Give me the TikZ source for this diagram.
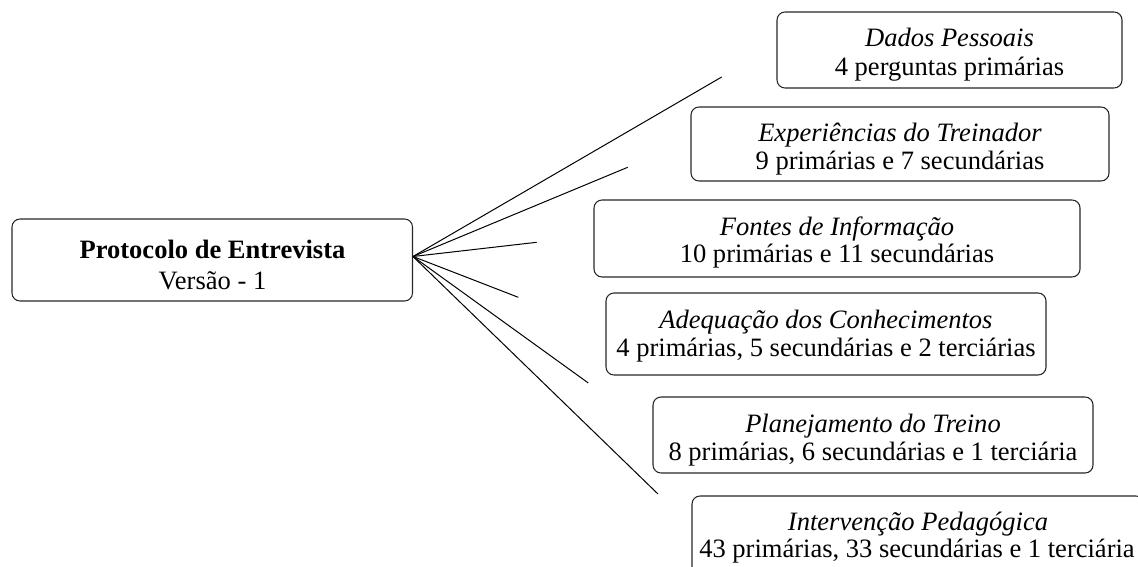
\documentclass[tikz,border=0pt]{standalone}
\usepackage{fontspec}
\setmainfont{Liberation Serif}
\begin{document}
\begin{tikzpicture}[x=0.75pt,y=-0.75pt,
  box/.style={draw=black!85,line width=0.8pt,rounded corners=6pt},
  txt/.style={anchor=base,inner sep=0pt,font=\fontsize{19.9}{23}\selectfont},
  ttl/.style={txt,font=\fontsize{19.9}{23}\selectfont\itshape},
  spoke/.style={draw=black,line width=0.75pt}]
\useasboundingbox (0,0) rectangle (1138,567);
\clip (0,0) rectangle (1138,567);
% main box
\draw[box] (12,219) rectangle (412.5,301);
\node[txt,font=\fontsize{19.9}{23}\selectfont\bfseries] (mainT) at (212.5,258) {Protocolo de Entrevista};
\node[txt] (mainS) at (212.5,289) {Versão - 1};
\coordinate (hub) at (413,256.5);
% boxes
\draw[box] (777,12) rectangle (1122,88);
\node[ttl] (dadosT) at (949.5,47) {Dados Pessoais};
\node[txt] (dadosS) at (949.5,75) {4 perguntas primárias};
\draw[box] (691,107) rectangle (1109,181);
\node[ttl] (expT) at (900,141) {Experiências do Treinador};
\node[txt] (expS) at (900,169) {9 primárias e 7 secundárias};
\draw[box] (594,200) rectangle (1080,277);
\node[ttl] (fontT) at (837,235) {Fontes de Informação};
\node[txt] (fontS) at (837,262) {10 primárias e 11 secundárias};
\draw[box] (606,293) rectangle (1046,375);
\node[ttl] (adeqT) at (826,328) {Adequação dos Conhecimentos};
\node[txt] (adeqS) at (826,356) {4 primárias, 5 secundárias e 2 terciárias};
\draw[box] (653,397) rectangle (1093,473);
\node[ttl] (planT) at (873,432) {Planejamento do Treino};
\node[txt] (planS) at (873,460) {8 primárias, 6 secundárias e 1 terciária};
\draw[box] (692,496) rectangle (1144,576);
\node[ttl] (intT) at (918,530) {Intervenção Pedagógica};
\node[txt] (intS) at (917,557) {43 primárias, 33 secundárias e 1 terciária};
% spokes
\coordinate (e1) at (721.7,77);
\coordinate (e2) at (627.7,167.3);
\coordinate (e3) at (536.7,242.3);
\coordinate (e4) at (518.3,297.3);
\coordinate (e5) at (588.3,383);
\coordinate (e6) at (658,494);
\foreach \e in {e1,e2,e3,e4,e5,e6} \draw[spoke] (hub) -- (\e);
\end{tikzpicture}
\end{document}
